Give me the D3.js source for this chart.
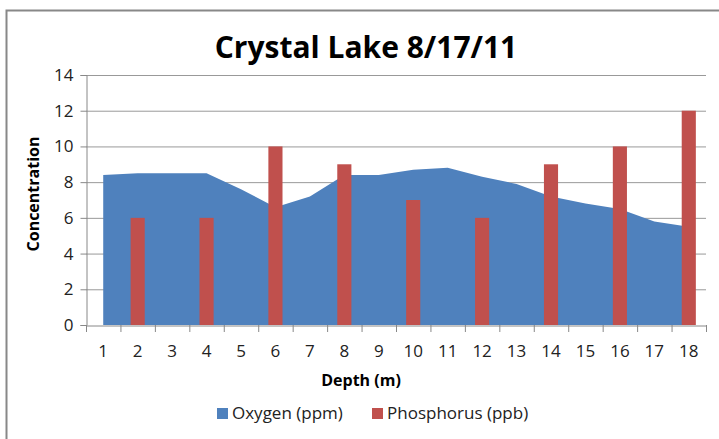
<!DOCTYPE html>
<html>
<head>
<meta charset="utf-8">
<script src="https://cdn.jsdelivr.net/npm/d3@7"></script>
<style>
  body { margin: 0; background: #fff; }
  text { font-family: "Open Sans", "Liberation Sans", sans-serif; }
</style>
</head>
<body>
<svg id="chart" width="719" height="439"></svg>
<script>
// data
const depths = [1, 2, 3, 4, 5, 6, 7, 8, 9, 10, 11, 12, 13, 14, 15, 16, 17, 18]
const oxygen = [8.4, 8.5, 8.5, 8.5, 7.6, 6.6, 7.2, 8.4, 8.4, 8.7, 8.8, 8.3, 7.9, 7.2, 6.8, 6.5, 5.8, 5.5]
const phosDepths = [2, 4, 6, 8, 10, 12, 14, 16, 18]
const phosphorus = [6, 6, 10, 9, 7, 6, 9, 10, 12]
const yTicks = [0, 2, 4, 6, 8, 10, 12, 14]

const svg = d3.select('#chart')
const plotLeft = 86, plotRight = 706, plotTop = 75, plotBottom = 325

// outer frame
svg.append('rect')
  .attr('x', 6.5).attr('y', 10.5)
  .attr('width', 740).attr('height', 460)
  .attr('fill', 'none').attr('stroke', '#888').attr('stroke-width', 2)

const x = d3.scaleBand().domain(depths).range([plotLeft, plotRight])
const y = d3.scaleLinear().domain([0, 14]).range([plotBottom, plotTop])

// gridlines
svg.append('g')
  .selectAll('line')
  .data(yTicks.filter(d => d > 0))
  .enter()
  .append('line')
  .attr('x1', plotLeft).attr('x2', plotRight)
  .attr('y1', d => y(d) + 0.5).attr('y2', d => y(d) + 0.5)
  .attr('stroke', '#999')

// oxygen area
const area = d3.area()
  .x((d, i) => x(depths[i]) + x.bandwidth() / 2)
  .y0(y(0))
  .y1(d => y(d))
svg.append('path')
  .datum(oxygen)
  .attr('d', area)
  .attr('fill', '#4f81bd')

// phosphorus bars
const barW = x.bandwidth() * 0.41
svg.append('g')
  .selectAll('rect')
  .data(phosphorus)
  .enter()
  .append('rect')
  .attr('x', (d, i) => x(phosDepths[i]) + x.bandwidth() / 2 - barW / 2)
  .attr('y', d => y(d))
  .attr('width', barW)
  .attr('height', d => y(0) - y(d))
  .attr('fill', '#c0504d')

// y axis
const yAxis = svg.append('g')
  .attr('transform', `translate(${plotLeft + 0.5},0)`)
  .call(d3.axisLeft(y).tickValues(yTicks).tickSize(6).tickPadding(7))
yAxis.select('.domain').attr('stroke', '#888')
yAxis.selectAll('.tick line').attr('stroke', '#888')
yAxis.selectAll('.tick text').attr('font-size', 17).attr('fill', '#222')

// x axis, ticks sit on the category boundaries
const xAxis = svg.append('g')
  .attr('transform', `translate(0,${plotBottom + 0.5})`)
  .call(d3.axisBottom(x).tickSize(0).tickPadding(19))
xAxis.select('.domain').attr('stroke', '#888')
xAxis.selectAll('.tick text').attr('font-size', 17).attr('fill', '#222')
svg.append('g')
  .selectAll('line')
  .data(depths.concat([19]))
  .enter()
  .append('line')
  .attr('x1', d => plotLeft + (d - 1) * x.step() + 0.5)
  .attr('x2', d => plotLeft + (d - 1) * x.step() + 0.5)
  .attr('y1', plotBottom).attr('y2', plotBottom + 7)
  .attr('stroke', '#888')

// titles
svg.append('text')
  .attr('x', 366).attr('y', 58)
  .attr('text-anchor', 'middle')
  .attr('font-size', 30).attr('font-weight', 'bold')
  .text('Crystal Lake 8/17/11')

svg.append('text')
  .attr('x', 361).attr('y', 386)
  .attr('text-anchor', 'middle')
  .attr('font-size', 16).attr('font-weight', 'bold')
  .text('Depth (m)')

svg.append('text')
  .attr('transform', 'translate(39,194) rotate(-90)')
  .attr('text-anchor', 'middle')
  .attr('font-size', 16).attr('font-weight', 'bold')
  .text('Concentration')

// legend
const legend = [['Oxygen (ppm)', '#4f81bd', 217], ['Phosphorus (ppb)', '#c0504d', 372]]
legend.forEach(l => {
  svg.append('rect').attr('x', l[2]).attr('y', 408).attr('width', 11).attr('height', 11).attr('fill', l[1])
  svg.append('text').attr('x', l[2] + 15).attr('y', 419)
    .attr('font-size', 17).attr('fill', '#222').text(l[0])
})
</script>
</body>
</html>
